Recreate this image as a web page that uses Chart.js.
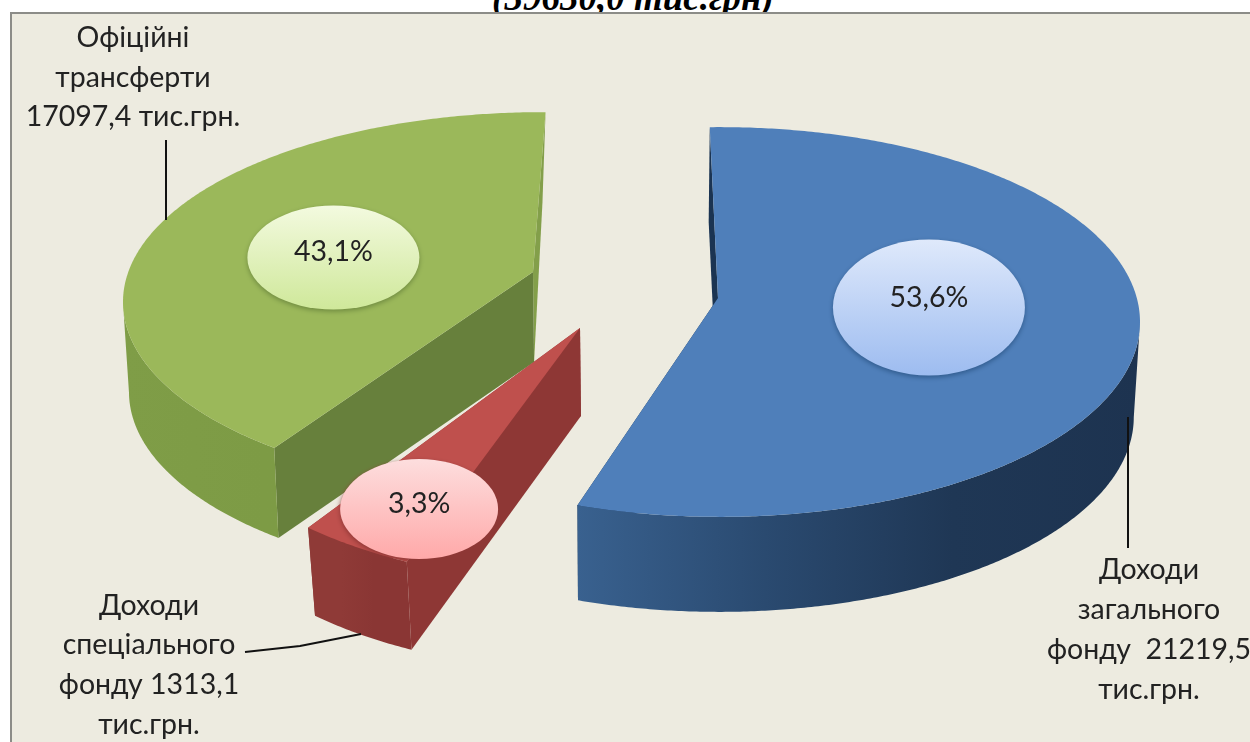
<!DOCTYPE html>
<html lang="uk">
<head>
<meta charset="utf-8">
<title>Доходи</title>
<script src="https://cdn.jsdelivr.net/npm/chart.js@4"></script>
<style>
    html, body { margin: 0; padding: 0; background: #fff; overflow: hidden; }
    #page { position: relative; width: 1250px; height: 742px; overflow: hidden; }
    #frame {
        position: absolute; left: 10px; top: 12px; width: 1260px; height: 760px;
        background: #edebe0; border: 2px solid #8c8c88;
    }
    #heading {
        position: absolute; left: 0; width: 1266px; top: -24px; text-align: center;
        font: italic bold 37px "Liberation Serif", serif; color: #000; white-space: nowrap;
    }
    canvas { position: absolute; left: 0; top: 0; }
</style>
</head>
<body>
<div id="page">
    <div id="heading">(39630,0 тис.грн)</div>
    <div id="frame"></div>
    <canvas id="incomeChart" width="1250" height="742"></canvas>
</div>
<script>
const categories = ['Доходи загального фонду', 'Доходи спеціального фонду', 'Офіційні трансферти'];
const amounts = [21219.5, 1313.1, 17097.4];
const percentLabels = ['53,6%', '3,3%', '43,1%'];

const labelFont = '28.5px Lato, "Noto Sans", sans-serif';

// how each exploded slice sits in the fake 3D view (all relative to the pie centre)
const sliceViews = [
    {
        apex: [96, 5], rim: [98, 29], squash: 0.464, turn: -1.4, stretch: 1.044, depth: 95, lean: 0.012, endLean: 0.012,
        top: '#4f7fba', startFace: '#1b3452', endFace: '#1b3452',
        wall: ['#39618f', '#2a4a70', '#1f3755', '#1d3350'],
        bubble: { arc: 0.447, t: 0.5, rx: 96, ry: 68, textUp: 10, from: '#dfe9fb', to: '#9dbcf0', edge: '#2f5a8c' }
    },
    {
        apex: [-42, 35], rim: [-42, 61], squash: 0.543, turn: 11.6, stretch: 1.34, depth: 88, lean: 0.022, endLean: 0.022,
        top: '#bf504d', startFace: '#8e3735', endFace: '#8e3735',
        wall: ['#8f3a37', '#8f3a37', '#8a3634', '#8a3634'],
        bubble: { arc: 0.266, t: 0.8, rx: 79, ry: 50, textUp: 5, from: '#fddede', to: '#ffa9a9', edge: '#8e3735' }
    },
    {
        apex: [-89, -21], rim: [-79, 9], squash: 0.452, turn: 15.1, stretch: 0.905, depth: 90, lean: 0.012, endLean: -0.04,
        top: '#9bb85a', startFace: '#67803c', endFace: '#839f4a',
        wall: ['#7f9d47', '#7d9b45', '#7d9c46', '#7f9c47'],
        bubble: { arc: 0.484, t: 0.512, rx: 86, ry: 52, textUp: 6, from: '#f3fadf', to: '#cfe89a', edge: '#6f8a40' }
    }
];

// text lines and leader lines next to the slices
const callouts = [
    { lines: ['Доходи', 'загального', 'фонду  21219,5', 'тис.грн.'], x: 1149, y: [570, 610, 650, 690], leader: [[1128, 417], [1128, 548]] },
    { lines: ['Доходи', 'спеціального', 'фонду 1313,1', 'тис.грн.'], x: 149, y: [606, 645, 685, 725], leader: [[245, 652], [300, 646], [361, 634]] },
    { lines: ['Офіційні', 'трансферти', '17097,4 тис.грн.'], x: 133, y: [38, 78, 117], leader: [[166, 140], [166, 220]] }
];

function toDegrees(rad) {
    return (rad + Math.PI / 2) * 180 / Math.PI;
}

function rimPoint(arc, view, deg) {
    const rad = deg * Math.PI / 180;
    return [
        arc.x + view.rim[0] + arc.outerRadius * Math.sin(rad),
        arc.y + view.rim[1] - arc.outerRadius * view.squash * Math.cos(rad)
    ];
}

// the bottom edge leans a little towards the middle of the picture
function dropPoint(arc, view, p, lean) {
    return [p[0] + (arc.x - p[0]) * lean, p[1] + view.depth];
}

function fillPolygon(ctx, points, fill) {
    ctx.beginPath();
    points.forEach((p, i) => i ? ctx.lineTo(p[0], p[1]) : ctx.moveTo(p[0], p[1]));
    ctx.closePath();
    ctx.fillStyle = fill;
    ctx.fill();
}

function drawSlice(ctx, arc, view) {
    const first = toDegrees(arc.startAngle);
    const last = toDegrees(arc.endAngle);
    const from = first + view.turn;
    const to = from + (last - first) * view.stretch;

    const rimTop = [];
    for (let d = from; d < to; d += 0.5) rimTop.push(rimPoint(arc, view, d));
    rimTop.push(rimPoint(arc, view, to));
    const rimBottom = rimTop.map(p => dropPoint(arc, view, p, view.lean));

    const apex = [arc.x + view.apex[0], arc.y + view.apex[1]];
    const apexBottom = dropPoint(arc, view, apex, view.lean);
    const startTop = rimTop[0];
    const endTop = rimTop[rimTop.length - 1];

    fillPolygon(ctx, [apex, endTop, dropPoint(arc, view, endTop, view.endLean), apexBottom], view.endFace);
    fillPolygon(ctx, [apex, startTop, rimBottom[0], apexBottom], view.startFace);

    const xs = rimTop.map(p => p[0]);
    const gradient = ctx.createLinearGradient(Math.min(...xs), 0, Math.max(...xs), 0);
    view.wall.forEach((c, i) => gradient.addColorStop(i / (view.wall.length - 1), c));
    // wall only for the front half of the rim, the back of it would stick out past the cut faces
    const rimMiddle = arc.y + view.rim[1];
    const front = rimTop.map((p, i) => i).filter(i => rimTop[i][1] >= rimMiddle);
    fillPolygon(ctx, front.map(i => rimTop[i]).concat(front.map(i => rimBottom[i]).reverse()), gradient);

    fillPolygon(ctx, [apex].concat(rimTop), view.top);
}

function drawBubble(ctx, arc, view, text) {
    const first = toDegrees(arc.startAngle);
    const last = toDegrees(arc.endAngle);
    const from = first + view.turn;
    const deg = from + (last - first) * view.stretch * view.bubble.arc;
    const rim = rimPoint(arc, view, deg);
    const apex = [arc.x + view.apex[0], arc.y + view.apex[1]];
    const x = apex[0] + (rim[0] - apex[0]) * view.bubble.t;
    const y = apex[1] + (rim[1] - apex[1]) * view.bubble.t;
    const b = view.bubble;

    ctx.save();
    ctx.shadowColor = b.edge;
    ctx.shadowBlur = 5;
    ctx.shadowOffsetY = 2;
    const gradient = ctx.createLinearGradient(0, y - b.ry, 0, y + b.ry);
    gradient.addColorStop(0, b.from);
    gradient.addColorStop(1, b.to);
    ctx.beginPath();
    ctx.ellipse(x, y, b.rx, b.ry, 0, 0, Math.PI * 2);
    ctx.fillStyle = gradient;
    ctx.fill();
    ctx.restore();

    ctx.fillStyle = '#222';
    ctx.font = labelFont;
    ctx.textAlign = 'center';
    ctx.textBaseline = 'middle';
    ctx.fillText(text, x, y - b.textUp);
}

function drawCallout(ctx, item) {
    ctx.fillStyle = '#222';
    ctx.font = labelFont;
    ctx.textAlign = 'center';
    ctx.textBaseline = 'middle';
    item.lines.forEach((line, i) => ctx.fillText(line, item.x, item.y[i]));

    ctx.beginPath();
    item.leader.forEach((p, i) => i ? ctx.lineTo(p[0], p[1]) : ctx.moveTo(p[0], p[1]));
    ctx.strokeStyle = '#111';
    ctx.lineWidth = 2;
    ctx.stroke();
}

const explodedPie = {
    id: 'explodedPie',
    beforeDatasetsDraw(chart) {
        const ctx = chart.ctx;
        const arcs = chart.getDatasetMeta(0).data;
        ctx.save();
        [2, 0, 1].forEach(i => drawSlice(ctx, arcs[i], sliceViews[i]));
        callouts.forEach(item => drawCallout(ctx, item));
        [2, 0, 1].forEach(i => drawBubble(ctx, arcs[i], sliceViews[i], percentLabels[i]));
        ctx.restore();
        return false;
    }
};

new Chart(document.getElementById('incomeChart'), {
    type: 'pie',
    data: {
        labels: categories,
        datasets: [{
            data: amounts,
            backgroundColor: sliceViews.map(v => v.top),
            borderWidth: 0
        }]
    },
    options: {
        responsive: false,
        animation: false,
        radius: 420,
        layout: { padding: { right: 6, bottom: 156 } },
        plugins: {
            legend: { display: false },
            tooltip: { enabled: false }
        }
    },
    plugins: [explodedPie]
});
</script>
</body>
</html>
